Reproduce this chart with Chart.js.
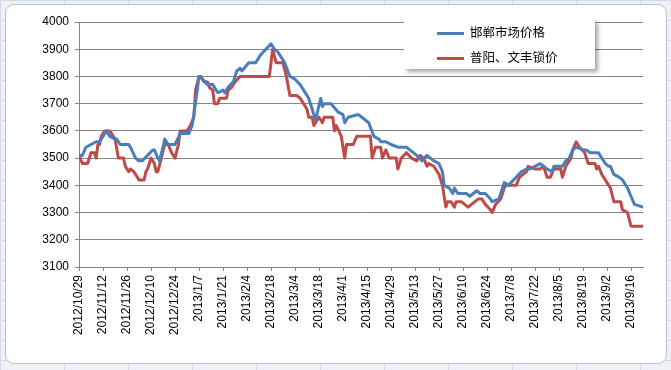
<!DOCTYPE html>
<html>
<head>
<meta charset="utf-8">
<script src="https://cdn.jsdelivr.net/npm/chart.js@4"></script>
<style>
  html, body { margin: 0; padding: 0; }
  body {
    width: 671px; height: 370px; position: relative; overflow: hidden;
    background-color: #eef2f7;
    background-image:
      linear-gradient(to right, #d3dbe6 1px, transparent 1px),
      linear-gradient(to bottom, #d3dbe6 1px, transparent 1px);
    background-size: 64px 20px;
  }
  #frame {
    position: absolute; left: 5px; top: 4px; width: 660px; height: 358px;
    background: #fff; border: 1px solid #b9c1ca; border-radius: 9px;
  }
  #chart { position: absolute; left: 0; top: 0; }
  #legend {
    position: absolute; left: 404px; top: 20px; width: 191px; height: 49px;
    background: #fff; box-shadow: 3px 3px 4px rgba(0,0,0,0.35);
    font-family: "Noto Sans CJK SC", sans-serif; font-size: 12.5px; color: #000;
  }
  #legend .row { position: absolute; left: 33px; height: 16px; line-height: 16px; white-space: nowrap; }
  #legend .swatch { display: inline-block; width: 27px; height: 3px; vertical-align: middle; margin-right: 6px; }
</style>
</head>
<body>
<div id="frame"></div>
<canvas id="chart" width="671" height="370"></canvas>
<div id="legend"></div>
<script>
// Weekly price chart, 2012/10/29 - 2013/9/23. x values are days after the start date.
const startDate = [2012, 10, 29];
const lastDay = 329;
const tickStepDays = 14;

const seriesNames = ["邯郸市场价格", "普阳、文丰锁价"];
const seriesColors = ["#4a7ebb", "#be4b48"];

const handanDays = [0, 2, 4, 7, 10, 12, 14, 16, 17, 18, 21, 22, 24, 29, 30, 33, 35, 37, 40, 43, 44, 46, 47, 49, 50,
  52, 56, 59, 64, 66, 67, 69, 70, 72, 75, 78, 81, 84, 85, 87, 90, 92, 94, 95, 99, 103, 106, 109, 112, 114, 116,
  120, 123, 126, 129, 134, 137, 138, 141, 142, 143, 147, 151, 154, 155, 157, 163, 165, 169, 172, 175, 176, 179,
  182, 186, 191, 195, 197, 200, 203, 207, 210, 212, 213, 216, 218, 219, 221, 226, 228, 230, 232, 234, 237, 240,
  241, 245, 247, 248, 251, 252, 255, 258, 261, 263, 269, 271, 273, 276, 277, 282, 284, 286, 288, 290, 294, 296,
  298, 303, 306, 307, 309, 310, 312, 315, 317, 320, 322, 324, 329];
const handanPrices = [3510, 3510, 3540, 3550, 3560, 3560, 3580, 3600, 3590, 3580, 3570, 3570, 3550, 3550, 3540,
  3500, 3490, 3490, 3510, 3530, 3530, 3500, 3490, 3540, 3570, 3550, 3550, 3590, 3590, 3620, 3660, 3750, 3800,
  3790, 3770, 3770, 3740, 3750, 3740, 3760, 3780, 3820, 3830, 3820, 3850, 3850, 3880, 3900, 3920, 3900, 3890,
  3850, 3800, 3790, 3770, 3720, 3660, 3640, 3720, 3690, 3700, 3700, 3670, 3660, 3630, 3650, 3660, 3650, 3630,
  3580, 3570, 3560, 3560, 3550, 3540, 3540, 3520, 3510, 3490, 3510, 3490, 3480, 3450, 3400, 3390, 3370, 3390,
  3370, 3370, 3360, 3370, 3380, 3370, 3370, 3350, 3340, 3350, 3390, 3410, 3400, 3410, 3430, 3450, 3460, 3460,
  3480, 3470, 3460, 3450, 3470, 3470, 3490, 3500, 3530, 3540, 3530, 3530, 3520, 3520, 3490, 3480, 3470, 3470,
  3440, 3430, 3420, 3390, 3360, 3330, 3320];

const lockDays = [0, 2, 5, 7, 9, 10, 11, 12, 13, 15, 18, 21, 23, 26, 27, 29, 30, 32, 34, 35, 38, 39, 40, 42, 44,
  45, 46, 48, 50, 52, 54, 56, 58, 59, 63, 65, 67, 68, 70, 71, 73, 75, 76, 78, 79, 81, 82, 86, 87, 89, 91, 94, 111,
  113, 115, 119, 121, 123, 127, 129, 131, 133, 134, 136, 137, 139, 140, 142, 143, 148, 149, 150, 153, 155, 156,
  160, 162, 170, 171, 173, 176, 177, 179, 181, 185, 186, 188, 191, 194, 197, 199, 201, 203, 204, 207, 210, 212,
  214, 215, 217, 219, 220, 223, 227, 229, 233, 235, 237, 240, 241, 243, 246, 248, 249, 255, 257, 259, 261, 262,
  266, 269, 271, 273, 275, 277, 281, 282, 284, 286, 287, 288, 290, 292, 295, 297, 301, 302, 303, 305, 308, 310,
  312, 316, 317, 320, 322, 329];
const lockPrices = [3510, 3480, 3480, 3520, 3520, 3500, 3550, 3550, 3580, 3600, 3600, 3570, 3500, 3500, 3470,
  3450, 3460, 3450, 3430, 3420, 3420, 3450, 3460, 3500, 3480, 3450, 3450, 3500, 3550, 3550, 3520, 3500, 3550,
  3600, 3600, 3620, 3650, 3750, 3800, 3800, 3780, 3780, 3760, 3750, 3700, 3700, 3720, 3720, 3750, 3760, 3780,
  3800, 3800, 3900, 3850, 3850, 3800, 3730, 3730, 3720, 3700, 3680, 3650, 3650, 3620, 3640, 3650, 3630, 3650,
  3650, 3600, 3620, 3580, 3500, 3550, 3550, 3580, 3580, 3500, 3540, 3540, 3500, 3530, 3500, 3500, 3460, 3500,
  3520, 3500, 3490, 3510, 3500, 3470, 3480, 3470, 3440, 3400, 3320, 3340, 3340, 3320, 3340, 3340, 3320, 3330,
  3350, 3350, 3330, 3310, 3300, 3330, 3350, 3390, 3400, 3400, 3430, 3440, 3450, 3470, 3460, 3460, 3470, 3430,
  3430, 3460, 3460, 3430, 3470, 3490, 3500, 3530, 3560, 3540, 3520, 3480, 3480, 3460, 3470, 3440, 3410, 3390,
  3340, 3340, 3310, 3300, 3250, 3250];

const yMin = 3100;
const yMax = 4000;
const yStep = 100;

function dayLabel(offset) {
  const d = new Date(startDate[0], startDate[1] - 1, startDate[2] + offset);
  return d.getFullYear() + "/" + (d.getMonth() + 1) + "/" + d.getDate();
}

function toPoints(days, prices) {
  return days.map((day, i) => ({ x: day, y: prices[i] }));
}

const axisFont = { family: "'Liberation Sans', Arial, sans-serif", size: 12 };

new Chart(document.getElementById("chart"), {
  type: "line",
  data: {
    datasets: [
      { label: seriesNames[0], data: toPoints(handanDays, handanPrices), borderColor: seriesColors[0] },
      { label: seriesNames[1], data: toPoints(lockDays, lockPrices), borderColor: seriesColors[1] },
    ],
  },
  options: {
    responsive: false,
    animation: false,
    layout: { padding: { left: 0, top: 22, right: 28, bottom: 0 } },
    elements: {
      line: { borderWidth: 3, tension: 0, borderJoinStyle: "round", borderCapStyle: "round" },
      point: { radius: 0 },
    },
    plugins: { legend: { display: false }, tooltip: { enabled: false } },
    scales: {
      x: {
        type: "linear",
        min: 0,
        max: lastDay,
        afterFit: (scale) => { scale.height = 103; },
        grid: { drawOnChartArea: false, color: "#868686", tickLength: 4 },
        border: { color: "#868686" },
        ticks: {
          stepSize: tickStepDays,
          includeBounds: false,
          autoSkip: false,
          minRotation: 90,
          maxRotation: 90,
          padding: 4,
          color: "#000",
          font: axisFont,
          callback: (value) => dayLabel(value),
        },
      },
      y: {
        min: yMin,
        max: yMax,
        afterFit: (scale) => { scale.width = 79; },
        grid: { color: "#868686", tickLength: 4 },
        border: { color: "#868686" },
        ticks: { stepSize: yStep, padding: 6, color: "#000", font: axisFont, callback: (value) => String(value) },
      },
    },
  },
});

// Legend box drawn as HTML, placed like the original's framed legend.
const legend = document.getElementById("legend");
seriesNames.forEach((name, i) => {
  const row = document.createElement("div");
  row.className = "row";
  row.style.top = (4 + i * 25) + "px";
  row.innerHTML = '<span class="swatch" style="background:' + seriesColors[i] + '"></span>' + name;
  legend.appendChild(row);
});
</script>
</body>
</html>
